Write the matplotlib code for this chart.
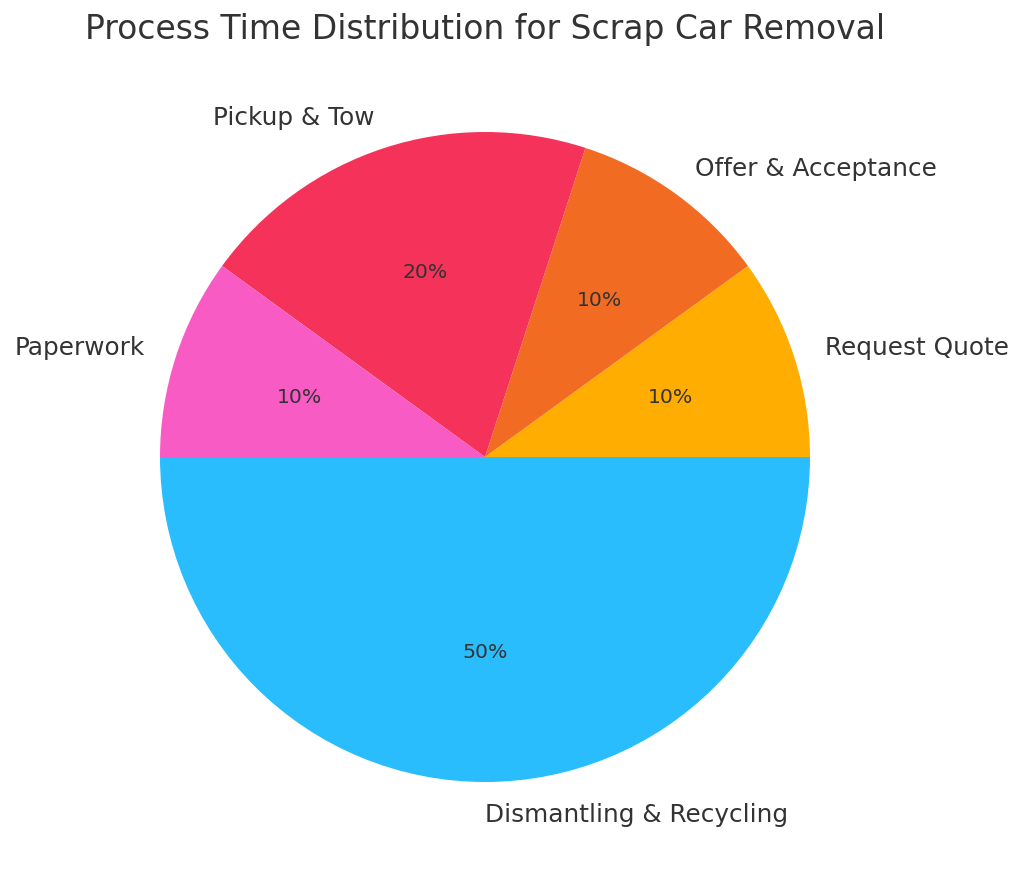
import matplotlib
matplotlib.use("Agg")
import matplotlib.pyplot as plt

labels = ["Request Quote", "Offer & Acceptance", "Pickup & Tow", "Paperwork", "Dismantling & Recycling"]
values = [10, 10, 20, 10, 50]
colors = ["#FFAD00", "#F26B22", "#F5325A", "#F95BC5", "#29BDFE"]
title = "Process Time Distribution for Scrap Car Removal"

text_color = "#333333"
fig = plt.figure(figsize=(10.24, 8.79), dpi=100)
ax = fig.add_axes([160 / 1024, 96 / 879, 650 / 1024, 650 / 879])
wedges, texts, autotexts = ax.pie(
    values, labels=labels, colors=colors, autopct="%1.0f%%",
    startangle=0, labeldistance=1.1, pctdistance=0.6,
    textprops={"color": text_color},
)
for t in texts:
    t.set_fontsize(17.8)
for t in autotexts:
    t.set_fontsize(14.7)
ax.set_xlim(-1, 1)
ax.set_ylim(-1, 1)
ax.set_aspect("equal")
fig.text(485 / 1024, 1 - 30 / 879, title, ha="center", va="center", fontsize=23.8, color=text_color)
fig.savefig("out.png", dpi=100, facecolor="white")
